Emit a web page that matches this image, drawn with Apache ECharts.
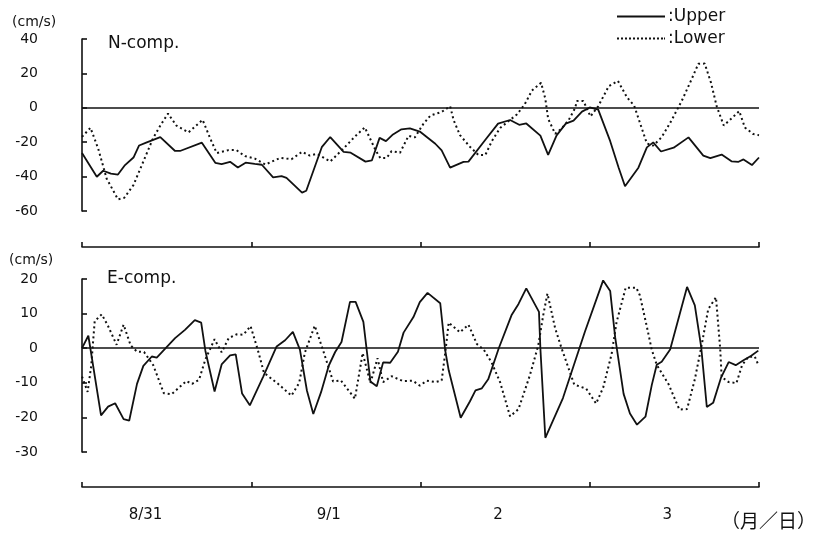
<!DOCTYPE html>
<html>
<head>
<meta charset="utf-8">
<script src="https://cdn.jsdelivr.net/npm/echarts@6/dist/echarts.min.js"></script>
<style>
html,body{margin:0;padding:0;background:#fff;}
#chart{width:820px;height:538px;}
</style>
</head>
<body>
<div id="chart"></div>
<script>
// ---- data (hours from 8/31 00:00, velocity in cm/s) ----
const nUpperHours = [0, 2.1, 3.0, 4.1, 5.1, 6.1, 7.3, 8.1, 9.1, 11.1, 13.2, 13.9, 17.0, 18.9, 19.8, 21.0, 22.1, 23.2, 24.5, 25.5, 27.1, 28.3, 29.0, 31.2, 31.8, 34.0, 35.2, 37.1, 38.1, 40.2, 41.1, 42.2, 43.1, 44.1, 45.3, 46.5, 47.9, 50.1, 51.0, 52.2, 54.1, 54.8, 57.2, 59.0, 60.7, 62.0, 63.0, 65.0, 66.1, 67.3, 68.6, 69.7, 70.9, 72.0, 73.2, 74.9, 76.1, 77.0, 78.9, 80.1, 81.0, 82.1, 83.9, 86.0, 88.1, 89.1, 90.7, 92.1, 93.1, 93.8, 95.0, 96.0];
const nUpperValues = [-26.3, -40.1, -36.6, -38.3, -38.8, -33.3, -28.9, -21.9, -20.2, -17.0, -25.1, -25.1, -20.3, -32.0, -32.8, -31.4, -34.7, -31.9, -32.6, -33.1, -40.4, -39.7, -40.7, -49.3, -48.2, -22.9, -17.0, -25.6, -26.1, -31.3, -30.6, -17.5, -19.4, -15.5, -12.5, -12.0, -13.8, -20.9, -24.8, -34.8, -31.4, -31.3, -18.6, -9.2, -7.1, -9.9, -9.1, -16.2, -27.4, -16.0, -9.2, -7.5, -2.2, 0.2, -1.1, -19.4, -34.9, -45.6, -34.8, -23.0, -20.1, -25.4, -23.2, -17.2, -27.8, -29.3, -27.2, -31.1, -31.4, -30.0, -33.3, -28.9];

const nLowerHours = [0, 1.2, 2.3, 3.5, 5.1, 6.0, 7.3, 8.7, 10.1, 11.2, 12.2, 13.4, 15.1, 17.1, 18.2, 19.1, 20.8, 21.9, 23.1, 24.5, 26.0, 28.1, 29.7, 31.2, 32.3, 33.3, 35.2, 37.1, 38.7, 40.1, 41.6, 42.3, 43.2, 43.9, 45.1, 46.3, 47.2, 48.4, 49.4, 51.0, 52.2, 52.7, 53.6, 55.0, 56.2, 57.2, 58.1, 59.3, 60.5, 61.7, 62.8, 63.8, 65.1, 65.7, 66.1, 67.1, 68.0, 69.0, 69.9, 70.2, 71.1, 72.1, 73.2, 74.7, 76.0, 77.3, 78.3, 79.1, 80.1, 81.0, 82.2, 83.6, 85.1, 86.4, 87.4, 88.3, 89.2, 90.0, 91.0, 92.2, 93.2, 94.0, 95.2, 96.0];
const nLowerValues = [-16.9, -11.6, -23.8, -41.2, -53.2, -52.3, -44.9, -31.2, -17.5, -9.7, -3.4, -10.4, -14.3, -7.0, -18.0, -26.3, -24.6, -24.6, -28.1, -29.5, -33.0, -29.1, -29.9, -25.6, -27.8, -26.8, -31.2, -23.6, -16.7, -11.4, -24.4, -29.2, -29.1, -25.2, -26.1, -16.3, -17.2, -9.4, -4.5, -2.4, 0.9, -7.2, -15.9, -22.6, -27.4, -27.4, -19.5, -11.7, -7.7, -3.8, 2.2, 10.0, 14.5, 5.3, -6.4, -15.1, -12.1, -7.2, -0.4, 4.0, 4.0, -5.0, 0.9, 12.6, 15.6, 6.0, 1.2, -8.5, -20.7, -22.0, -17.1, -7.3, 4.5, 16.2, 25.6, 25.7, 14.5, 0.9, -10.3, -5.8, -1.9, -11.5, -15.3, -15.9];

const eUpperHours = [0, 0.9, 2.7, 3.7, 4.7, 5.9, 6.7, 7.8, 8.7, 9.9, 10.6, 13.2, 14.6, 16.0, 16.9, 17.5, 18.8, 19.8, 21.0, 21.8, 22.7, 23.8, 25.7, 27.6, 28.8, 29.9, 30.9, 31.9, 32.8, 33.9, 35.0, 35.9, 36.8, 38.0, 38.8, 39.9, 40.4, 40.9, 41.8, 42.7, 43.7, 44.8, 45.6, 47.0, 47.9, 49.0, 50.8, 51.5, 52.0, 53.7, 55.0, 55.8, 56.7, 57.6, 59.1, 60.9, 61.9, 63.0, 64.8, 65.0, 65.7, 68.2, 71.3, 73.9, 74.9, 75.6, 76.8, 77.7, 78.7, 79.9, 80.8, 81.5, 82.2, 83.4, 84.8, 85.8, 86.9, 87.8, 88.6, 89.5, 90.6, 91.7, 92.7, 93.8, 94.9, 95.9];
const eUpperValues = [0, 3.6, -19.4, -16.9, -15.9, -20.5, -20.9, -10.3, -5.1, -2.4, -2.7, 2.9, 5.3, 8.1, 7.4, -0.8, -12.5, -4.7, -2.1, -1.8, -13.1, -16.5, -8.2, 0.5, 2.3, 4.7, -0.4, -12.3, -19.0, -12.7, -5.0, -1.1, 1.8, 13.4, 13.4, 7.6, -1.0, -9.6, -11.0, -4.1, -4.2, -1.0, 4.5, 9.0, 13.3, 16.0, 13.0, -0.6, -6.4, -20.1, -15.4, -12.2, -11.6, -9.0, 0, 9.5, 12.8, 17.3, 10.5, -0.1, -25.9, -14.4, 4.7, 19.6, 16.5, 3.2, -13.2, -18.9, -22.1, -19.8, -10.6, -4.8, -3.9, -0.4, 10.2, 17.7, 12.4, 0.4, -17.0, -15.8, -8.6, -4.0, -4.9, -3.5, -2.2, -0.7];

const eLowerHours = [0, 0.8, 1.3, 1.8, 2.8, 3.7, 4.9, 5.9, 6.9, 7.8, 8.8, 10.1, 11.6, 12.7, 14.8, 15.6, 16.6, 17.5, 18.8, 19.8, 20.8, 21.9, 22.9, 23.9, 25.0, 25.8, 27.8, 29.7, 30.8, 31.6, 33.0, 34.2, 35.6, 36.7, 38.7, 39.8, 40.9, 41.9, 42.7, 43.9, 45.5, 46.9, 47.9, 48.9, 50.1, 51.0, 51.5, 52.0, 53.6, 54.8, 56.0, 57.0, 58.1, 59.3, 60.7, 61.9, 63.5, 64.7, 65.4, 66.0, 67.1, 68.0, 69.8, 71.5, 72.9, 73.9, 75.1, 75.8, 77.1, 78.6, 79.1, 80.1, 80.8, 81.5, 83.2, 84.7, 85.8, 86.9, 87.9, 88.8, 89.9, 90.5, 90.7, 91.7, 92.8, 93.6, 94.5, 95.4, 95.9];
const eLowerValues = [-8.2, -12.6, -5.2, 7.8, 9.8, 6.4, 1.0, 6.8, 0.8, -1.0, -1.1, -4.9, -13.0, -13.3, -9.5, -10.3, -9.1, -3.2, 2.6, -1.2, 2.9, 4.0, 3.9, 6.4, -1.0, -7.1, -10.3, -13.7, -10.0, -1.3, 6.5, -0.7, -9.6, -9.3, -14.6, -1.4, -10.1, -2.9, -9.8, -8.1, -9.5, -9.4, -10.8, -9.4, -9.8, -9.3, -1.5, 7.4, 4.6, 6.8, 1.2, -0.5, -4.2, -9.9, -19.7, -17.6, -7.9, 0.8, 9.5, 15.8, 5.7, 0.0, -10.5, -11.7, -16.0, -11.4, -1.7, 7.5, 17.5, 17.5, 15.3, 6.2, -0.5, -4.8, -10.5, -17.7, -17.6, -9.0, 1.2, 11.3, 14.7, -0.2, -8.3, -9.8, -10.1, -4.9, -2.5, -2.4, -4.8];

const dayLabels = ['8/31', '9/1', '2', '3'];
const dayLabelHours = [9, 35, 59, 83];
const dayTickHours = [0, 24, 48, 72, 96];
const nTicks = [-60, -40, -20, 0, 20, 40];
const eTicks = [-30, -20, -10, 0, 10, 20];

const pairs = (hs, vs) => hs.map((h, i) => [h, vs[i]]);

const FONT = 'DejaVu Sans';
const INK = '#111';

// legend icons: a solid stroke and a row of dots
const solidIcon = 'path://M0,0H48V2H0Z';
let dotPath = '';
for (let i = 0; i < 12; i++) dotPath += 'M' + (i * 4) + ',0h2v2h-2Z';
const dottedIcon = 'path://' + dotPath + 'M47,0h1v2h-1Z';

function yAxisFor(gridIndex, ticks) {
  return {
    type: 'value', gridIndex: gridIndex,
    min: ticks[0], max: ticks[ticks.length - 1], interval: ticks[1] - ticks[0],
    offset: 32,
    axisLine: { show: true, lineStyle: { color: INK, width: 1.6 } },
    axisTick: { show: true, inside: true, length: 5, lineStyle: { color: INK, width: 1.6 } },
    axisLabel: { fontFamily: FONT, fontSize: 14, color: INK, margin: 12 },
    splitLine: { show: false }
  };
}

function xAxisFor(gridIndex, offset, withLabels) {
  const ax = {
    type: 'value', gridIndex: gridIndex,
    min: dayTickHours[0], max: dayTickHours[dayTickHours.length - 1], interval: 24,
    offset: offset,
    axisLine: { show: true, onZero: false, lineStyle: { color: INK, width: 1.6 } },
    axisTick: { show: true, inside: true, length: 5, customValues: dayTickHours, lineStyle: { color: INK, width: 1.6 } },
    splitLine: { show: false },
    axisLabel: { show: false }
  };
  if (withLabels) {
    ax.axisLabel = {
      show: true, customValues: dayLabelHours,
      formatter: v => dayLabels[dayLabelHours.indexOf(v)],
      fontFamily: FONT, fontSize: 15, color: INK, margin: 21
    };
  }
  return ax;
}

const zeroLine = {
  silent: true, symbol: 'none', animation: false,
  label: { show: false },
  lineStyle: { color: INK, width: 1.6, type: 'solid' },
  data: [{ yAxis: 0 }]
};

function lineSeries(name, xi, data, dotted, withZero) {
  const s = {
    name: name, type: 'line', xAxisIndex: xi, yAxisIndex: xi,
    data: data, symbol: 'none', smooth: false,
    lineStyle: dotted ? { color: INK, width: 2, type: [2, 3] } : { color: INK, width: 1.8, type: 'solid' },
    itemStyle: { color: INK },
    z: dotted ? 3 : 4
  };
  if (withZero) s.markLine = zeroLine;
  return s;
}

const chart = echarts.init(document.getElementById('chart'), null, { renderer: 'canvas' });
chart.setOption({
  animation: false,
  backgroundColor: '#fff',
  grid: [
    { left: 82, right: 61, top: 39, bottom: 327 },
    { left: 82, right: 61, top: 279, bottom: 86 }
  ],
  xAxis: [xAxisFor(0, 36, false), xAxisFor(1, 35, true)],
  yAxis: [yAxisFor(0, nTicks), yAxisFor(1, eTicks)],
  legend: {
    orient: 'vertical', left: 617, top: 8, padding: 0,
    itemWidth: 48, itemHeight: 2, itemGap: 5,
    data: [
      { name: 'Upper', icon: solidIcon },
      { name: 'Lower', icon: dottedIcon }
    ],
    itemStyle: { color: INK, borderWidth: 0 },
    lineStyle: { width: 0 },
    formatter: n => ':' + n,
    textStyle: { fontFamily: FONT, fontSize: 17, color: INK, padding: [0, 0, 0, -2] }
  },
  graphic: [
    { type: 'text', left: 12, top: 15, style: { text: '(cm/s)', fontFamily: FONT, fontSize: 14, fill: INK } },
    { type: 'text', left: 9, top: 253, style: { text: '(cm/s)', fontFamily: FONT, fontSize: 14, fill: INK } },
    { type: 'text', left: 108, top: 35, style: { text: 'N-comp.', fontFamily: FONT, fontSize: 17, fill: INK } },
    { type: 'text', left: 107, top: 270, style: { text: 'E-comp.', fontFamily: FONT, fontSize: 17, fill: INK } },
    { type: 'text', left: 721, top: 511, style: { text: '（月／日）', fontFamily: 'Noto Sans CJK JP', fontSize: 19, fill: INK } }
  ],
  series: [
    lineSeries('Upper', 0, pairs(nUpperHours, nUpperValues), false, true),
    lineSeries('Lower', 0, pairs(nLowerHours, nLowerValues), true, false),
    lineSeries('Upper', 1, pairs(eUpperHours, eUpperValues), false, true),
    lineSeries('Lower', 1, pairs(eLowerHours, eLowerValues), true, false)
  ]
});
</script>
</body>
</html>
